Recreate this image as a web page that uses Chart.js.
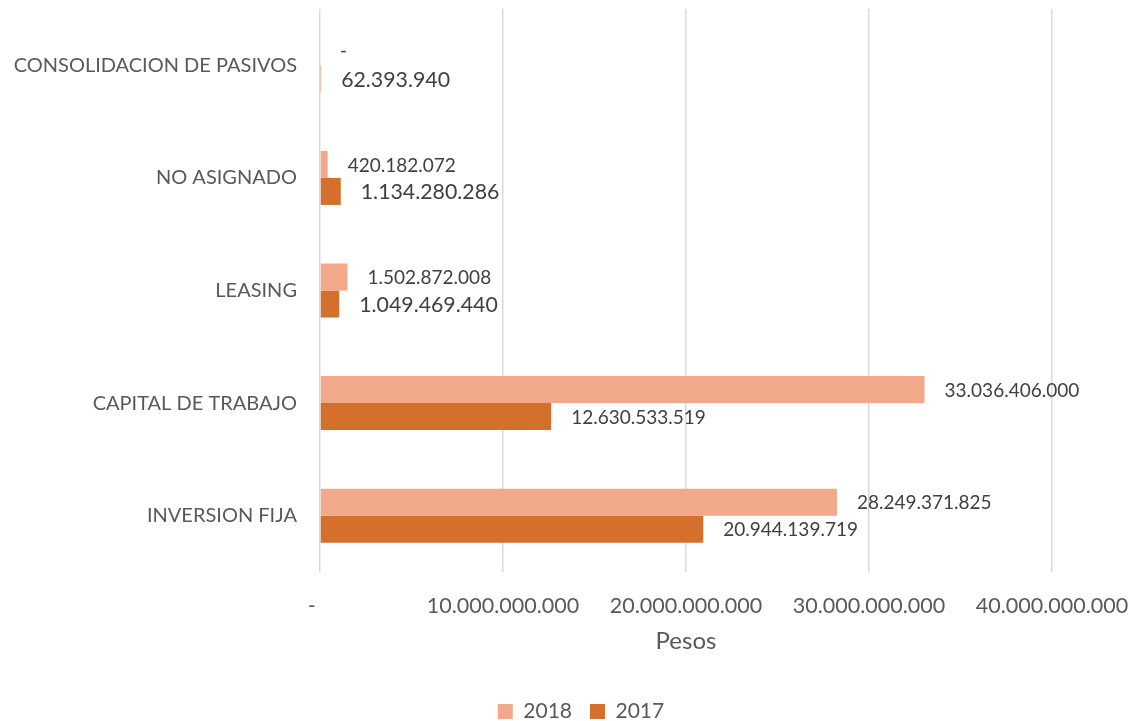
<!DOCTYPE html>
<html>
<head>
<meta charset="utf-8">
<script src="https://cdn.jsdelivr.net/npm/chart.js@4.4.1/dist/chart.umd.min.js"></script>
<style>
  html, body { margin: 0; padding: 0; background: #ffffff; }
  #wrap { width: 1130px; height: 721px; position: relative; }
</style>
</head>
<body>
<div id="wrap"><canvas id="c"></canvas></div>
<script>
const categories = ["CONSOLIDACION DE PASIVOS", "NO ASIGNADO", "LEASING", "CAPITAL DE TRABAJO", "INVERSION FIJA"];
const values2018 = [0, 420182072, 1502872008, 33036406000, 28249371825];
const values2017 = [62393940, 1134280286, 1049469440, 12630533519, 20944139719];
const xTicks = [0, 10000000000, 20000000000, 30000000000, 40000000000];

const FONT = "Lato, 'Open Sans', sans-serif";

function fmt(v) {
  if (v === 0) return "-";
  return String(Math.round(v)).replace(/\B(?=(\d{3})+(?!\d))/g, ".");
}

const labelPlugin = {
  id: "barLabels",
  afterLayout(chart) {
    if (chart.legend) { chart.legend.left = 32; }
  },
  afterDatasetsDraw(chart) {
    const ctx = chart.ctx;
    ctx.save();
    ctx.fillStyle = "#404040";
    ctx.textAlign = "left";
    ctx.textBaseline = "middle";
    chart.data.datasets.forEach((ds, di) => {
      const meta = chart.getDatasetMeta(di);
      meta.data.forEach((el, i) => {
        const v = ds.data[i];
        const big = (di === 1 && i < 3);
        ctx.font = (big ? 21.3 : 19) + "px " + FONT;
        const txt = fmt(v);
        const dy = (v === 0) ? -1 : 1;
        ctx.fillText(txt, el.x + 20, el.y + dy);
      });
    });
    ctx.restore();
  }
};

new Chart(document.getElementById("c"), {
  type: "bar",
  data: {
    labels: categories,
    datasets: [
      { label: "2018", data: values2018, backgroundColor: "#F2A98B", borderWidth: 0 },
      { label: "2017", data: values2017, backgroundColor: "#D4702B", borderWidth: 0 }
    ]
  },
  options: {
    indexAxis: "y",
    responsive: true,
    maintainAspectRatio: false,
    animation: false,
    layout: { padding: { top: 9, left: 0, right: 0, bottom: -11 } },
    datasets: { bar: { categoryPercentage: 0.48, barPercentage: 1.0 } },
    plugins: {
      legend: {
        position: "bottom",
        labels: {
          font: { family: FONT, size: 21 },
          color: "#595959",
          boxWidth: 15,
          boxHeight: 15,
          padding: 18
        }
      },
      tooltip: { enabled: false }
    },
    scales: {
      x: {
        min: 0,
        max: 40000000000,
        afterBuildTicks(scale) { scale.ticks = xTicks.map(v => ({ value: v })); },
        afterFit(scale) { scale.height = 111; scale.paddingLeft = 0; scale.paddingRight = 78; },
        ticks: {
          font: { family: FONT, size: 21.5 },
          color: "#595959",
          padding: 21,
          maxRotation: 0,
          callback: (v) => v === 0 ? "-   " : fmt(v)
        },
        grid: { color: "#D9D9D9", lineWidth: 1.5, drawTicks: false },
        border: { display: false },
        title: {
          display: true,
          text: "Pesos",
          font: { family: FONT, size: 24 },
          color: "#595959",
          padding: { top: 10, bottom: 27 }
        }
      },
      y: {
        afterFit(scale) { scale.width = 320; scale.paddingTop = 0; scale.paddingBottom = 0; },
        ticks: {
          font: { family: FONT, size: 20 },
          color: "#595959",
          padding: 23
        },
        grid: { display: false, drawTicks: false },
        border: { display: false }
      }
    }
  },
  plugins: [labelPlugin]
});
</script>
</body>
</html>
